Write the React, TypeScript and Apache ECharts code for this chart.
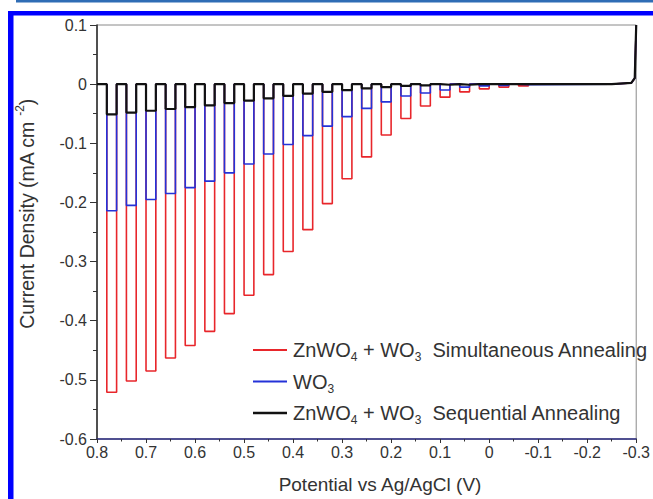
import React, { useEffect, useRef } from "react";
import * as echarts from "echarts";

// Potentials (V vs Ag/AgCl) where the light is switched on and off
const lightOn = [0.78, 0.74, 0.70, 0.66, 0.62, 0.58, 0.54, 0.50, 0.46, 0.42, 0.38, 0.34, 0.30, 0.26, 0.22, 0.18, 0.14, 0.10, 0.06, 0.02, -0.02, -0.06];
const lightOff = [0.76, 0.72, 0.68, 0.64, 0.60, 0.56, 0.52, 0.48, 0.44, 0.40, 0.36, 0.32, 0.28, 0.24, 0.20, 0.16, 0.12, 0.08, 0.04, 0.00, -0.04, -0.08];

// Photocurrent (mA cm^-2) during each light-on period
const simultaneous = [-0.521, -0.502, -0.485, -0.463, -0.442, -0.418, -0.388, -0.357, -0.322, -0.283, -0.246, -0.202, -0.160, -0.123, -0.086, -0.058, -0.037, -0.022, -0.013, -0.008, -0.005, -0.003];
const wo3 = [-0.214, -0.205, -0.195, -0.185, -0.175, -0.164, -0.150, -0.135, -0.118, -0.102, -0.087, -0.071, -0.055, -0.041, -0.030, -0.020, -0.015, -0.010, -0.005, -0.003, -0.002, -0.001];
const sequential = [-0.051, -0.048, -0.045, -0.042, -0.039, -0.036, -0.032, -0.028, -0.024, -0.020, -0.016, -0.013, -0.010, -0.007, -0.005, -0.003, -0.002, -0.001, -0.001, 0, 0, 0];

// Dark current at scan start and the tail of the scan
const startPotential = 0.8;
const darkCurrent = 0;
const tailPotential = [-0.25, -0.29, -0.297, -0.3];
const tailCurrent = [0, 0.002, 0.01, 0.1];

const seriesNames = [
  "ZnWO4 + WO3 Simultaneous Annealing",
  "WO3",
  "ZnWO4 + WO3 Sequential Annealing",
];
const seriesColors = ["#e8262b", "#2432d8", "#111111"];

function buildPulses(on: number[]): [number, number][] {
  const pts: [number, number][] = [[startPotential, darkCurrent]];
  for (let k = 0; k < lightOn.length; k++) {
    pts.push([lightOn[k], darkCurrent]);
    pts.push([lightOn[k], on[k]]);
    pts.push([lightOff[k], on[k]]);
    pts.push([lightOff[k], darkCurrent]);
  }
  for (let i = 0; i < tailPotential.length; i++) pts.push([tailPotential[i], tailCurrent[i]]);
  return pts;
}

const FONT = "'Liberation Sans', Arial, Helvetica, sans-serif";

export default function App() {
  const ref = useRef<HTMLDivElement>(null);
  useEffect(() => {
    document.body.style.margin = "0";
    if (!ref.current) return;
    const chart = echarts.init(ref.current, undefined, { renderer: "svg" });
    const fmt = (v: number) => String(Math.round(v * 10) / 10);
    const legendRich = {
      n: { fontSize: 20, lineHeight: 26, verticalAlign: "middle", fontFamily: FONT, fill: "#333", color: "#333" },
      s: { fontSize: 12, lineHeight: 12, verticalAlign: "bottom", fontFamily: FONT, fill: "#333", color: "#333" },
    };
    const legendTexts = [
      "{n|ZnWO}{s|4}{n| + WO}{s|3}{n|  Simultaneous Annealing}",
      "{n|WO}{s|3}",
      "{n|ZnWO}{s|4}{n| + WO}{s|3}{n|  Sequential Annealing}",
    ];
    const legendY = [350, 381.5, 413];
    const legendGraphics: any[] = [];
    for (let i = 0; i < 3; i++) {
      legendGraphics.push({
        type: "line",
        shape: { x1: 253, y1: legendY[i], x2: 287, y2: legendY[i] },
        style: { stroke: seriesColors[i], lineWidth: i === 2 ? 2.4 : 1.8 },
        z: 10,
      });
      legendGraphics.push({
        type: "text",
        x: 293,
        y: legendY[i],
        style: {
          text: legendTexts[i],
          rich: legendRich,
          verticalAlign: "middle",
          align: "left",
          fontFamily: FONT,
        },
        z: 10,
      });
    }
    chart.setOption({
      animation: false,
      backgroundColor: "#ffffff",
      grid: { left: 97, right: 10, top: 25, bottom: 60, show: true, borderColor: "#8a8a8a", borderWidth: 1 },
      xAxis: {
        type: "value",
        inverse: true,
        min: -0.3,
        max: 0.8,
        interval: 0.1,
        splitLine: { show: false },
        axisLine: { show: true, onZero: false, lineStyle: { color: "#2a2a80", width: 1.6 } },
        axisTick: { show: true, inside: false, length: 4, lineStyle: { color: "#333" } },
        minorTick: { show: true, splitNumber: 2, length: 2.5, lineStyle: { color: "#333" } },
        axisLabel: { formatter: fmt, fontSize: 16, color: "#333", margin: 5, fontFamily: FONT },
      },
      yAxis: {
        type: "value",
        min: -0.6,
        max: 0.1,
        interval: 0.1,
        splitLine: { show: false },
        axisLine: { show: true, onZero: false, lineStyle: { color: "#333", width: 1.6 } },
        axisTick: { show: true, inside: false, length: 7, lineStyle: { color: "#333" } },
        minorTick: { show: true, splitNumber: 2, length: 4, lineStyle: { color: "#333" } },
        axisLabel: { formatter: fmt, fontSize: 16, color: "#333", margin: 10, fontFamily: FONT },
      },
      series: [simultaneous, wo3, sequential].map((vals, i) => ({
        name: seriesNames[i],
        type: "line",
        data: buildPulses(vals),
        showSymbol: false,
        symbol: "none",
        clip: true,
        lineStyle: { color: seriesColors[i], width: i === 2 ? 2.2 : 1.6 },
        z: 2 + i,
      })),
      graphic: [
        { type: "rect", shape: { x: 16, y: 0, width: 637, height: 2.5 }, style: { fill: "#2f6db5" } },
        { type: "rect", shape: { x: 8, y: 11, width: 645, height: 4.5 }, style: { fill: "#0000ff" } },
        { type: "rect", shape: { x: 8, y: 11, width: 5.5, height: 488 }, style: { fill: "#0000ff" } },
        {
          type: "text",
          x: 380,
          y: 484,
          style: {
            text: "Potential vs Ag/AgCl (V)",
            fontSize: 19,
            fontFamily: FONT,
            fill: "#333",
            align: "center",
            verticalAlign: "middle",
          },
        },
        {
          type: "text",
          x: 27,
          y: 214,
          rotation: Math.PI / 2,
          style: {
            text: "{n|Current Density (mA cm }{p|-2}{n|)}",
            rich: {
              n: { fontSize: 19.5, lineHeight: 26, verticalAlign: "middle", fontFamily: FONT, fill: "#333" },
              p: { fontSize: 12, lineHeight: 12, verticalAlign: "top", fontFamily: FONT, fill: "#333" },
            },
            align: "center",
            verticalAlign: "middle",
          },
        },
        ...legendGraphics,
      ],
    });
    return () => chart.dispose();
  }, []);
  return <div ref={ref} style={{ width: 653, height: 499 }} />;
}
